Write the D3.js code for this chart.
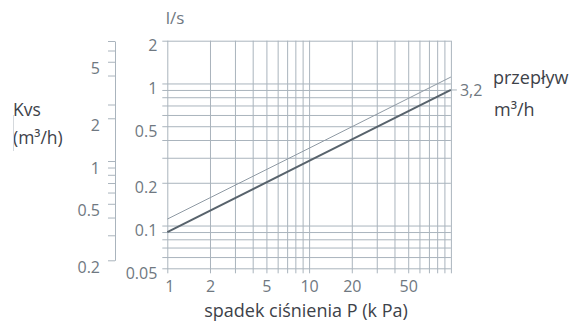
<!DOCTYPE html>
<html>
<head>
<meta charset="utf-8">
<script src="https://cdn.jsdelivr.net/npm/d3@7"></script>
<style>
  body { margin: 0; background: #fff; }
  svg { display: block; font-family: "Open Sans", sans-serif; }
</style>
</head>
<body>
<div id="chart"></div>
<script>
// pressure drop P (kPa)
const pressureGrid = [1, 2, 3, 4, 5, 6, 7, 8, 9, 10, 20, 30, 40, 50, 60, 70, 80, 90, 100]
const pressureLabels = [1, 2, 5, 10, 20, 50]

// flow l/s
const flowGrid = [2, 1, 0.9, 0.8, 0.7, 0.6, 0.5, 0.4, 0.3, 0.2, 0.1, 0.09, 0.08, 0.07, 0.06, 0.05]
const flowLabels = [2, 1, 0.5, 0.2, 0.1, 0.05]

// Kvs scale (m3/h)
const kvsTicks = [7, 6, 5, 4, 2.5, 2, 1, 0.9, 0.8, 0.7, 0.6, 0.5, 0.4, 0.3, 0.2]
const kvsLabels = [5, 2, 1, 0.5, 0.2]

// curves
const curvePressure = [1, 10, 100]
const flowKvs32 = [0.09, 0.285, 0.9]
const flowUpper = [0.111, 0.35, 1.11]

const W = 570, H = 321
const plotLeft = 167.3, plotRight = 450.9, plotTop = 40.7, plotBottom = 268.3

const gridColor = "#aab4bd"
const tickText = "#6f7881"
const titleText = "#3d4249"

const svg = d3.select("#chart").append("svg")
  .attr("width", W)
  .attr("height", H)

const x = d3.scaleLog().domain([1, 100]).range([plotLeft, plotRight])
const y = d3.scaleLog().domain([0.05, 2]).range([plotBottom, plotTop])
const kvs = d3.scaleLog().domain([0.2, 7]).range([260.3, 41])

// vertical grid + bottom ticks
const xAxis = svg.append("g")
  .attr("transform", `translate(0,${plotBottom + 5})`)
  .call(d3.axisBottom(x)
    .tickValues(pressureGrid)
    .tickSize(-(plotBottom - plotTop + 5))
    .tickPadding(7)
    .tickFormat(d => pressureLabels.includes(d) ? d : ""))
xAxis.select(".domain").remove()
xAxis.selectAll("text").attr("dx", d => d == 1 ? 2 : 0)

// horizontal grid + l/s ticks
const yAxis = svg.append("g")
  .attr("transform", `translate(${plotLeft - 5},0)`)
  .call(d3.axisLeft(y)
    .tickValues(flowGrid)
    .tickSize(-(plotRight - plotLeft + 5))
    .tickPadding(5)
    .tickFormat(d => flowLabels.includes(d) ? d : ""))
yAxis.select(".domain").remove()
yAxis.selectAll("text").attr("dy", "0.62em")

// Kvs axis
const kAxis = svg.append("g")
  .attr("transform", "translate(115,0)")
  .call(d3.axisLeft(kvs)
    .tickValues(kvsTicks)
    .tickSize(7)
    .tickSizeOuter(0)
    .tickPadding(8)
    .tickFormat(d => kvsLabels.includes(d) ? d : ""))
kAxis.selectAll("text").attr("dy", "0.75em")

svg.selectAll(".tick line, .domain")
  .attr("stroke", gridColor)
  .attr("stroke-width", 1)
svg.selectAll(".tick text")
  .attr("fill", tickText)
  .style("font-size", "16px")
  .style("font-family", "'Open Sans', sans-serif")

// curves
const line = d3.line()
  .x(d => x(d.p))
  .y(d => y(d.q))

const upperData = curvePressure.map((p, i) => ({p, q: flowUpper[i]}))
const mainData = curvePressure.map((p, i) => ({p, q: flowKvs32[i]}))

svg.append("path")
  .attr("d", line(upperData))
  .attr("fill", "none")
  .attr("stroke", "#8f9aa4")
  .attr("stroke-width", 1)

svg.append("path")
  .attr("d", line(mainData))
  .attr("fill", "none")
  .attr("stroke", "#58636c")
  .attr("stroke-width", 2)

// leader to the 3,2 label
const endY = y(flowKvs32[flowKvs32.length - 1])
svg.append("line")
  .attr("x1", plotRight).attr("x2", plotRight + 6)
  .attr("y1", endY).attr("y2", endY)
  .attr("stroke", gridColor)

svg.append("text")
  .attr("x", plotRight + 9)
  .attr("y", endY + 6)
  .attr("fill", tickText)
  .style("font-size", "16px")
  .text("3,2")

// titles
const title = (tx, ty, s, size, anchor) => svg.append("text")
  .attr("x", tx).attr("y", ty)
  .attr("text-anchor", anchor || "start")
  .attr("fill", titleText)
  .style("font-size", size + "px")
  .text(s)

svg.append("text")
  .attr("x", 175).attr("y", 24)
  .attr("text-anchor", "middle")
  .attr("fill", tickText)
  .style("font-size", "17px")
  .text("l/s")

title(13, 116, "Kvs", 17.5)
title(13, 144, "(m³/h)", 17.5)
title(493, 84, "przepływ", 18)
title(494, 116, "m³/h", 18)
title(306, 317, "spadek ciśnienia P (k Pa)", 18, "middle")

// stray cursor mark next to the Kvs caption
svg.append("line")
  .attr("x1", 13.5).attr("x2", 13.5)
  .attr("y1", 115).attr("y2", 151)
  .attr("stroke", "#d5d9dd")
</script>
</body>
</html>
